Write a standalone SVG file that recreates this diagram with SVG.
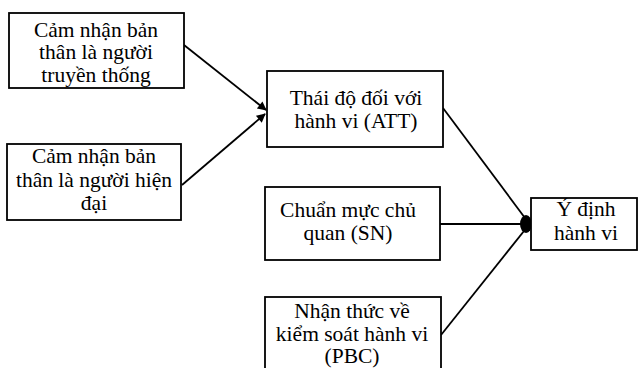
<svg xmlns="http://www.w3.org/2000/svg" width="640" height="368" viewBox="0 0 640 368">
<defs>
<style>
.box{fill:#fff;stroke:#000;stroke-width:1.8}
.t{font-family:"Liberation Serif","Times New Roman",serif;font-size:21.5px;fill:#000;text-anchor:middle}
.c{fill:none;stroke:#000;stroke-width:1.8}
</style>
<marker id="arr" viewBox="0 0 10 10" refX="9" refY="5" markerWidth="6" markerHeight="5" orient="auto" markerUnits="strokeWidth">
<path d="M0,0 L10,5 L0,10 z" fill="#000"/>
</marker>
</defs>
<rect width="640" height="368" fill="#fff"/>
<g id="connectors">
<line class="c" x1="184" y1="45" x2="266" y2="110" marker-end="url(#arr)"/>
<line class="c" x1="182" y1="185" x2="265" y2="114" marker-end="url(#arr)"/>
<line class="c" x1="443" y1="108" x2="528" y2="222"/>
<line class="c" x1="440" y1="224" x2="530" y2="224"/>
<line class="c" x1="441" y1="335" x2="528" y2="226"/>
<ellipse cx="526" cy="224" rx="6" ry="9" fill="#000"/>
</g>
<g id="n1">
<rect class="box" x="9" y="13" width="175" height="75"/>
<text class="t" x="96" y="37">Cảm nhận bản</text>
<text class="t" x="96" y="59">thân là người</text>
<text class="t" x="96" y="82">truyền thống</text>
</g>
<g id="n2">
<rect class="box" x="7" y="144" width="174" height="76"/>
<text class="t" x="94" y="163">Cảm nhận bản</text>
<text class="t" x="94" y="187">thân là người hiện</text>
<text class="t" x="94" y="210">đại</text>
</g>
<g id="att">
<rect class="box" x="267" y="71" width="176" height="76"/>
<text class="t" x="356" y="105">Thái độ đối với</text>
<text class="t" x="356" y="128">hành vi (ATT)</text>
</g>
<g id="sn">
<rect class="box" x="265" y="187" width="175" height="73"/>
<text class="t" x="348" y="217">Chuẩn mực chủ</text>
<text class="t" x="348" y="240">quan (SN)</text>
</g>
<g id="pbc">
<rect class="box" x="265" y="297" width="176" height="80"/>
<text class="t" x="352" y="318">Nhận thức về</text>
<text class="t" x="352" y="341">kiểm soát hành vi</text>
<text class="t" x="352" y="363">(PBC)</text>
</g>
<g id="y">
<rect class="box" x="531" y="198" width="106" height="52"/>
<text class="t" x="586" y="216">Ý định</text>
<text class="t" x="586" y="240">hành vi</text>
</g>
</svg>
